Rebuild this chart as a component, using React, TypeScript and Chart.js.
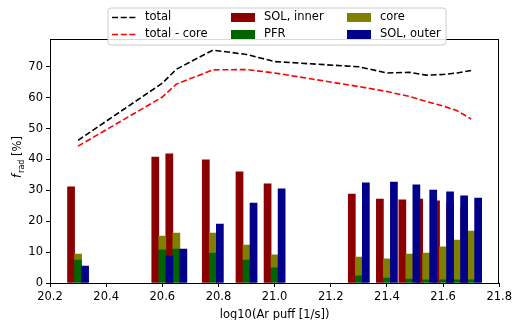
import React, { useEffect, useRef } from 'react';
import { Chart, registerables } from 'chart.js';

Chart.register(...registerables);

// log10 of the argon puff rate [1/s]
const puffLog = [20.3, 20.6, 20.65, 20.78, 20.9, 21.0, 21.3, 21.4, 21.48, 21.54, 21.6, 21.65, 21.7];

// radiated fraction per region [%]
const solInner = [31.1, 40.8, 41.8, 39.9, 36.0, 32.1, 28.8, 27.2, 26.9, 27.2, 26.6, 25.9, 24.6];
const pfr = [7.4, 10.7, 11.0, 9.7, 7.4, 4.9, 2.3, 1.6, 1.3, 1.0, 1.0, 1.0, 1.0];
const core = [2.0, 4.5, 5.2, 6.5, 4.9, 4.2, 6.1, 6.2, 8.1, 8.7, 10.7, 12.9, 15.8];
const solOuter = [5.5, 8.75, 11.0, 19.1, 25.9, 30.5, 32.4, 32.7, 31.8, 30.1, 29.5, 28.2, 27.5];

const total = [46.2, 64.7, 69.2, 75.4, 74.0, 71.7, 70.0, 68.0, 68.2, 67.3, 67.5, 68.0, 68.8];
const totalMinusCore = [44.3, 60.2, 64.4, 69.0, 69.1, 68.0, 63.6, 62.0, 60.4, 58.8, 57.3, 55.8, 53.1];

const xTicks = [20.2, 20.4, 20.6, 20.8, 21.0, 21.2, 21.4, 21.6, 21.8];
const yTicks = [0, 10, 20, 30, 40, 50, 60, 70];

const FONT = '"DejaVu Sans", sans-serif';
const FS = 11.5;
const BAR_W = 0.025; // bar width in x units; neighbours sit one width apart

const shift = (vals: number[], dx: number) => vals.map((v, i) => ({ x: puffLog[i] + dx, y: v }));
const pts = (vals: number[]) => vals.map((v, i) => ({ x: puffLog[i], y: v }));

// legend layout: [datasetIndex, column, row]
const legendSlots: [number, number, number][] = [
  [0, 0, 0],
  [1, 0, 1],
  [2, 1, 0],
  [3, 1, 1],
  [4, 2, 0],
  [5, 2, 1],
];

const decorPlugin = {
  id: 'decor',
  afterDatasetsDraw(chart: any) {
    const { ctx, chartArea: a } = chart;
    ctx.save();
    ctx.strokeStyle = '#000';
    ctx.lineWidth = 1;
    ctx.strokeRect(Math.round(a.left) + 0.5, Math.round(a.top) + 0.5, Math.round(a.right - a.left) - 1, Math.round(a.bottom - a.top));
    ctx.restore();
  },
  afterDraw(chart: any) {
    const { ctx } = chart;
    const ds = chart.data.datasets;
    ctx.save();

    // legend box
    const bx = 108, by = 8, bw = 338, bh = 37, r = 3;
    ctx.beginPath();
    ctx.moveTo(bx + r, by);
    ctx.arcTo(bx + bw, by, bx + bw, by + bh, r);
    ctx.arcTo(bx + bw, by + bh, bx, by + bh, r);
    ctx.arcTo(bx, by + bh, bx, by, r);
    ctx.arcTo(bx, by, bx + bw, by, r);
    ctx.closePath();
    ctx.fillStyle = 'rgba(255,255,255,0.85)';
    ctx.fill();
    ctx.strokeStyle = '#cccccc';
    ctx.lineWidth = 1;
    ctx.stroke();

    const colX = [112, 231, 347];
    const rowY = [17.5, 34.5];
    const handleLen = 24;
    ctx.font = `${FS}px ${FONT}`;
    ctx.textBaseline = 'middle';
    ctx.textAlign = 'left';
    for (const [di, c, rw] of legendSlots) {
      const d = ds[di];
      const x = colX[c];
      const y = rowY[rw];
      if (d.type === 'line') {
        ctx.save();
        ctx.strokeStyle = d.borderColor;
        ctx.lineWidth = d.borderWidth;
        ctx.setLineDash(d.borderDash);
        ctx.beginPath();
        ctx.moveTo(x, y);
        ctx.lineTo(x + handleLen, y);
        ctx.stroke();
        ctx.restore();
      } else {
        ctx.fillStyle = d.backgroundColor;
        ctx.fillRect(x, y - 4.5, handleLen, 9);
      }
      ctx.fillStyle = '#000';
      ctx.fillText(d.label, x + handleLen + 9, y);
    }

    // y-axis title: f_rad [%]
    ctx.translate(17, 157);
    ctx.rotate(-Math.PI / 2);
    const fMain = `italic ${FS}px ${FONT}`;
    const fSub = `${FS * 0.7}px ${FONT}`;
    const fRest = `${FS}px ${FONT}`;
    ctx.font = fMain;
    const w1 = ctx.measureText('f').width;
    ctx.font = fSub;
    const w2 = ctx.measureText('rad').width;
    ctx.font = fRest;
    const w3 = ctx.measureText(' [%]').width;
    let tx = -(w1 + w2 + w3 + 1) / 2;
    ctx.textBaseline = 'alphabetic';
    ctx.fillStyle = '#000';
    ctx.font = fMain;
    ctx.fillText('f', tx, 4);
    tx += w1 + 1;
    ctx.font = fSub;
    ctx.fillText('rad', tx, 6.5);
    tx += w2;
    ctx.font = fRest;
    ctx.fillText(' [%]', tx, 4);
    ctx.restore();
  },
};

export default function App() {
  const ref = useRef<HTMLCanvasElement | null>(null);

  useEffect(() => {
    document.body.style.margin = '0';
    const canvas = ref.current;
    if (!canvas) return;

    // `order` sets both stacking (low first) and paint order (low on top)
    const chart = new Chart(canvas, {
      type: 'bar',
      data: {
        datasets: [
          {
            type: 'line',
            label: 'total',
            data: pts(total),
            borderColor: '#000000',
            borderWidth: 1.6,
            borderDash: [6, 2.7],
            pointRadius: 0,
            fill: false,
            stack: 'l1',
            order: 0,
          } as any,
          {
            type: 'line',
            label: 'total - core',
            data: pts(totalMinusCore),
            borderColor: '#ff0000',
            borderWidth: 1.6,
            borderDash: [6, 2.7],
            pointRadius: 0,
            fill: false,
            stack: 'l2',
            order: 0,
          } as any,
          {
            label: 'SOL, inner',
            data: shift(solInner, -BAR_W),
            backgroundColor: '#8b0000',
            stack: 'inner',
            order: 4,
          },
          {
            label: 'PFR',
            data: pts(pfr),
            backgroundColor: '#006400',
            stack: 'mid',
            order: 2,
          },
          {
            label: 'core',
            data: pts(core),
            backgroundColor: '#808000',
            stack: 'mid',
            order: 3,
          },
          {
            label: 'SOL, outer',
            data: shift(solOuter, BAR_W),
            backgroundColor: '#00008b',
            stack: 'outer',
            order: 1,
          },
        ],
      },
      options: {
        responsive: false,
        animation: false,
        devicePixelRatio: 1,
        layout: { padding: { top: 39, right: 13, left: 0, bottom: 0 } },
        datasets: {
          bar: {
            grouped: false,
            barThickness: 7.06,
            borderWidth: 0,
          },
        },
        plugins: {
          legend: { display: false },
          tooltip: { enabled: false },
        },
        scales: {
          x: {
            type: 'linear',
            min: 20.2,
            max: 21.8,
            offset: false,
            grid: { offset: false, drawOnChartArea: false, drawTicks: true, tickLength: 4, color: '#000', lineWidth: 1 },
            border: { display: false },
            afterBuildTicks: (s: any) => {
              s.ticks = xTicks.map((v) => ({ value: v }));
            },
            ticks: {
              color: '#000',
              font: { family: FONT, size: FS },
              padding: 3,
              maxRotation: 0,
              autoSkip: false,
              callback: (v: any) => Number(v).toFixed(1),
            },
            title: {
              display: true,
              text: 'log10(Ar puff [1/s])',
              color: '#000',
              font: { family: FONT, size: FS },
              padding: { top: 0, bottom: -1.5 },
            },
            afterFit: (s: any) => {
              s.height = 37;
            },
          },
          y: {
            type: 'linear',
            stacked: true,
            min: 0,
            max: 79,
            grid: { drawOnChartArea: false, drawTicks: true, tickLength: 4, color: '#000', lineWidth: 1 },
            border: { display: false },
            afterBuildTicks: (s: any) => {
              s.ticks = yTicks.map((v) => ({ value: v }));
            },
            ticks: {
              color: '#000',
              font: { family: FONT, size: FS },
              padding: 3,
            },
            afterFit: (s: any) => {
              s.width = 50;
            },
          },
        },
      } as any,
      plugins: [decorPlugin],
    });

    return () => chart.destroy();
  }, []);

  return (
    <div style={{ width: 515, height: 320, position: 'relative', background: '#fff' }}>
      <canvas ref={ref} width={515} height={320} />
    </div>
  );
}
